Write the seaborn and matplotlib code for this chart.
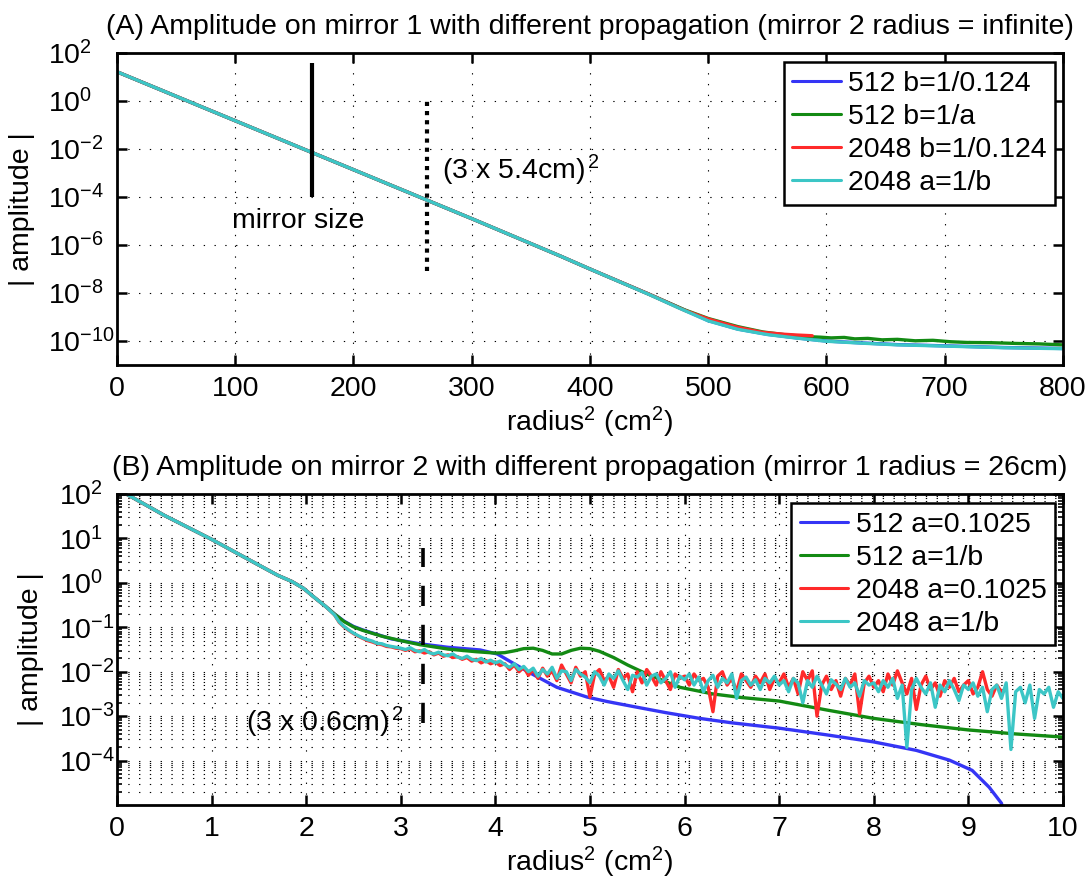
import numpy as np
import pandas as pd
import matplotlib
matplotlib.use("Agg")
import matplotlib.pyplot as plt
import seaborn as sns
from matplotlib.ticker import FixedLocator, LogLocator, NullLocator, NullFormatter, LogFormatterSciNotation

# ---------------- Panel A data (log10 of |amplitude|) ----------------
a_blue_x = [0, 100, 200, 300, 375, 400, 450, 475, 500, 525, 550, 575, 600, 630, 660, 700, 750, 800]
a_blue_log = [1.22, -0.82, -2.86, -4.90, -6.46, -7.00, -8.05, -8.60, -9.15, -9.50, -9.72, -9.87,
              -10.00, -10.08, -10.15, -10.20, -10.27, -10.31]
a_green_x = [0, 100, 200, 300, 375, 400, 450, 480, 500, 525, 546, 565, 581, 595, 604, 615, 624, 635,
             647, 660, 675, 690, 705, 719, 740, 760, 780, 800]
a_green_log = [1.22, -0.82, -2.86, -4.90, -6.46, -7.00, -8.05, -8.70, -9.06, -9.40, -9.62, -9.74, -9.81,
               -9.84, -9.87, -9.85, -9.91, -9.89, -9.95, -9.93, -9.99, -9.97, -10.03, -10.06, -10.07,
               -10.10, -10.12, -10.16]
a_red_x = [0, 100, 200, 300, 375, 400, 450, 480, 500, 525, 546, 565, 575, 588]
a_red_log = [1.22, -0.82, -2.86, -4.90, -6.46, -7.00, -8.05, -8.72, -9.08, -9.43, -9.64, -9.72, -9.75, -9.78]
a_cyan_x = [0, 100, 200, 300, 375, 400, 450, 475, 500, 525, 550, 575, 600, 630, 660, 700, 750, 800]
a_cyan_log = [1.22, -0.82, -2.86, -4.90, -6.46, -7.00, -8.06, -8.62, -9.16, -9.51, -9.73, -9.88,
              -10.01, -10.09, -10.16, -10.21, -10.28, -10.32]
a_labels = ["512 b=1/0.124", "512 b=1/a", "2048 b=1/0.124", "2048 a=1/b"]

# ---------------- Panel B data (log10 of |amplitude|) ----------------
b_common_x = [0.1, 0.5, 1.0, 1.5, 1.7, 1.85, 1.97, 2.1, 2.2]
b_common_log = [2.0, 1.52, 0.98, 0.40, 0.17, 0.03, -0.12, -0.35, -0.52]

b_blue_x = [2.3, 2.4, 2.5, 2.6, 2.9, 3.2, 3.5, 3.84, 4.02, 4.19, 4.37, 4.65, 4.97, 5.18, 5.5, 5.8, 6.16,
            6.5, 7.0, 7.5, 8.0, 8.45, 8.8, 9.04, 9.22, 9.35, 9.4]
b_blue_log = [-0.70, -0.86, -0.98, -1.06, -1.26, -1.37, -1.45, -1.51, -1.60, -1.81, -2.03, -2.35, -2.57,
              -2.67, -2.80, -2.92, -3.05, -3.15, -3.27, -3.42, -3.58, -3.77, -3.99, -4.22, -4.60, -4.96, -5.5]
b_green_x = [2.3, 2.4, 2.5, 2.6, 2.8, 3.0, 3.2, 3.5, 3.8, 4.0, 4.1, 4.2, 4.3, 4.4, 4.5, 4.6, 4.7, 4.8,
             4.9, 5.0, 5.1, 5.25, 5.4, 5.6, 5.95, 6.3, 6.6, 7.0, 7.5, 8.0, 8.5, 9.0, 9.5, 10.0]
b_green_log = [-0.70, -0.87, -0.99, -1.07, -1.20, -1.30, -1.39, -1.49, -1.55, -1.58, -1.57, -1.53, -1.48,
               -1.47, -1.52, -1.60, -1.60, -1.52, -1.47, -1.48, -1.54, -1.68, -1.85, -2.05, -2.35,
               -2.50, -2.58, -2.66, -2.86, -3.05, -3.19, -3.31, -3.40, -3.47]
# noisy series, sampled every 0.05 from 2.30
b_cyan_log = [
    -0.72, -0.88,
    -0.98, -1.06, -1.13, -1.19, -1.24, -1.28, -1.31, -1.36, -1.37, -1.41, -1.43, -1.45,
    -1.47, -1.50, -1.46, -1.52, -1.55, -1.50, -1.57, -1.60, -1.56, -1.62, -1.64, -1.60, -1.67, -1.70, -1.65, -1.72, -1.75, -1.70, -1.78, -1.74,
    -1.80, -1.76, -1.84, -1.90, -1.82, -1.95, -1.88, -2.00, -1.92, -2.10, -1.95, -2.05, -1.90, -2.15, -1.98, -2.00, -2.20, -1.95, -2.05, -2.12,
    -2.25, -2.00, -2.10, -2.30, -2.05, -2.15, -1.98, -2.20, -2.40, -2.08, -2.12, -2.02, -2.30, -2.10, -2.05, -2.25, -2.15, -2.00, -2.35, -2.10,
    -2.18, -2.05, -2.30, -2.12, -2.45, -2.20, -2.08, -2.35, -2.15, -2.25, -2.05, -2.60, -2.20, -2.12, -2.30, -2.18, -2.40, -2.15, -2.25, -2.10,
    -2.30, -2.20, -2.45, -2.15, -2.25, -2.70, -2.20, -2.35, -2.10, -2.30, -2.50, -2.18, -2.28, -2.40, -2.15, -2.35, -2.25, -2.55, -2.20, -2.30,
    -2.25, -2.45, -2.20, -2.35, -2.15, -2.60, -2.30, -3.70, -2.40, -2.15, -2.35, -2.50, -2.25, -2.80, -2.30, -2.45, -2.20, -2.40, -2.65, -2.30,
    -2.40, -2.25, -2.55, -2.35, -2.90, -2.40, -2.30, -2.60, -2.25, -3.75, -2.45, -2.35, -2.70, -2.30, -3.05, -2.40, -2.50, -2.35, -2.80, -2.45, -2.60,
]
b_red_log = [
    -0.72, -0.89,
    -0.99, -1.07, -1.14, -1.20, -1.25, -1.30, -1.33, -1.37, -1.39, -1.43, -1.44, -1.47,
    -1.48, -1.52, -1.48, -1.55, -1.53, -1.58, -1.55, -1.62, -1.58, -1.65, -1.62, -1.68, -1.66, -1.72, -1.68, -1.76, -1.72, -1.80, -1.75, -1.82,
    -1.78, -1.86, -1.82, -1.95, -1.85, -2.00, -1.90, -2.08, -1.95, -2.15, -1.92, -2.10, -1.98, -2.20, -1.85, -2.05, -2.25, -1.90, -2.10, -2.00,
    -2.57, -2.05, -1.95, -2.20, -2.10, -2.35, -1.95, -2.15, -2.05, -2.45, -2.00, -2.25, -1.95, -2.10, -2.30, -2.00, -2.20, -2.40, -2.05, -2.15,
    -2.10, -2.30, -2.05, -2.20, -2.15, -2.35, -2.90, -2.10, -2.00, -2.30, -2.15, -2.45, -2.05, -2.20, -2.35, -2.10, -2.25, -2.05, -2.40, -2.15,
    -2.25, -2.05, -2.35, -2.15, -2.50, -2.00, -2.20, -1.98, -3.00, -2.30, -2.10, -2.40, -2.20, -2.55, -2.15, -2.30, -2.05, -2.95, -2.25, -2.10,
    -2.35, -2.20, -2.45, -2.05, -2.30, -1.98, -2.25, -2.50, -2.15, -2.85, -2.30, -2.10, -2.40, -2.25, -2.55, -2.20, -2.35, -2.15, -2.45, -2.30,
    -2.20, -2.50, -2.35, -2.00, -2.40, -2.55, -2.30, -2.45,
]
b_labels = ["512 a=0.1025", "512 a=1/b", "2048 a=0.1025", "2048 a=1/b"]

colors = ["#3535F5", "#138A13", "#FF2A2A", "#3CC6C6"]
FS = 20.5

sns.set_theme(style="white")
plt.rcParams.update({
    "font.family": ["Liberation Sans", "DejaVu Sans"],
    "mathtext.fontset": "custom",
    "mathtext.rm": "Liberation Sans",
    "mathtext.it": "Liberation Sans:italic",
    "mathtext.bf": "Liberation Sans:bold",
    "text.color": "black",
    "axes.labelcolor": "black",
    "xtick.color": "black",
    "ytick.color": "black",
    "axes.edgecolor": "black",
})

fig = plt.figure(figsize=(10.91, 8.8), dpi=100)
axA = fig.add_axes([0.1072, 0.5852, 0.8671, 0.3545])
axB = fig.add_axes([0.1072, 0.0852, 0.8671, 0.3534])

GRID_LS = (0, (1.2, 8.5))


def style(ax, ypad):
    ax.set_yscale("log")
    ax.set_axisbelow(True)
    for s in ax.spines.values():
        s.set_linewidth(2.0)
        s.set_color("black")
        s.set_visible(True)
    ax.tick_params(which="both", direction="in", top=True, right=True,
                   bottom=True, left=True, labelsize=FS)
    ax.tick_params(which="major", length=7, width=1.8)
    ax.tick_params(which="minor", length=3.5, width=1.2)
    ax.tick_params(axis="y", which="both", pad=ypad)
    ax.tick_params(axis="x", which="both", pad=8)


def draw(ax, xs, ys, labels):
    for x, y, lab, c in zip(xs, ys, labels, colors):
        df = pd.DataFrame({"x": x, "amp": np.power(10.0, np.asarray(y, dtype=float))})
        sns.lineplot(data=df, x="x", y="amp", ax=ax, color=c, lw=2.4, label=lab,
                     estimator=None, sort=False)


# ---------------- Panel A ----------------
style(axA, 49.5)
draw(axA, [a_blue_x, a_green_x, a_red_x, a_cyan_x],
     [a_blue_log, a_green_log, a_red_log, a_cyan_log], a_labels)
axA.set_xlim(0, 800)
axA.set_ylim(1e-11, 1e2)
axA.xaxis.set_major_locator(FixedLocator(list(range(0, 801, 100))))
axA.yaxis.set_major_locator(FixedLocator([10.0 ** k for k in range(2, -11, -2)]))
axA.yaxis.set_major_formatter(LogFormatterSciNotation())
axA.yaxis.set_minor_locator(NullLocator())
axA.grid(True, which="major", color="black", lw=0.8, linestyle=GRID_LS)
axA.vlines(165, 10 ** -4.0, 10 ** 1.6, color="black", lw=3.0)
axA.vlines(262.44, 10 ** -7.1, 10 ** 0.1, color="black", lw=3.0, linestyle=(0, (1.0, 1.2)))
axA.text(97, 1e-5, "mirror size", fontsize=FS, ha="left", va="center")
axA.text(275, 10 ** -2.9, "(3 x 5.4cm)$^{\\,2}$", fontsize=FS, ha="left", va="center")
axA.set_title("(A) Amplitude on mirror 1 with different propagation (mirror 2 radius = infinite)",
              fontsize=FS, pad=14)
axA.set_xlabel("radius$^2$ (cm$^2$)", fontsize=FS, labelpad=2)
axA.set_ylabel("| amplitude |", fontsize=FS)
axA.yaxis.set_label_coords(-0.087, 0.5)

# ---------------- Panel B ----------------
style(axB, 42.0)
cyan_x = [round(2.30 + 0.05 * i, 2) for i in range(len(b_cyan_log))]
red_x = [round(2.30 + 0.05 * i, 2) for i in range(len(b_red_log))]
draw(axB,
     [b_common_x + b_blue_x, b_common_x + b_green_x, b_common_x + red_x, b_common_x + cyan_x],
     [b_common_log + b_blue_log, b_common_log + b_green_log, b_common_log + b_red_log,
      b_common_log + b_cyan_log], b_labels)
axB.set_xlim(0, 10)
axB.set_ylim(1e-5, 1e2)
axB.xaxis.set_major_locator(FixedLocator(list(range(0, 11))))
axB.yaxis.set_major_locator(FixedLocator([10.0 ** k for k in range(2, -5, -1)]))
axB.yaxis.set_major_formatter(LogFormatterSciNotation())
axB.yaxis.set_minor_locator(LogLocator(base=10, subs=np.arange(2, 10), numticks=30))
axB.yaxis.set_minor_formatter(NullFormatter())
axB.grid(True, which="major", color="black", lw=0.8, linestyle=GRID_LS)
axB.grid(True, which="minor", axis="y", color="black", lw=0.8, linestyle=GRID_LS)
axB.vlines(3.24, 10 ** -3.15, 10 ** 0.78, color="black", lw=2.6, linestyle=(0, (5.6, 5.2)))
axB.text(1.36, 10 ** -3.13, "(3 x 0.6cm)$^{\\,2}$", fontsize=FS, ha="left", va="center")
axB.set_title("(B) Amplitude on mirror 2 with different propagation (mirror 1 radius = 26cm)",
              fontsize=FS, pad=14)
axB.set_xlabel("radius$^2$ (cm$^2$)", fontsize=FS, labelpad=2)
axB.set_ylabel("| amplitude |", fontsize=FS)
axB.yaxis.set_label_coords(-0.077, 0.5)

for ax in (axA, axB):
    leg = ax.legend(loc="upper right", bbox_to_anchor=(0.9915, 0.971), borderaxespad=0,
                    fontsize=FS, frameon=True, fancybox=False, edgecolor="black",
                    framealpha=1, handlelength=1.7, handletextpad=0.25, labelspacing=0.25,
                    borderpad=0.3)
    leg.get_frame().set_linewidth(1.8)
    for h in leg.get_lines():
        h.set_linewidth(2.2)

# MATLAB-style log tick labels: the "10" base starts at a fixed x, exponent hangs right
fig.canvas.draw()
for ax in (axA, axB):
    for t in ax.yaxis.get_major_ticks():
        t.label1.set_horizontalalignment("left")

fig.savefig("out.png", dpi=100)
